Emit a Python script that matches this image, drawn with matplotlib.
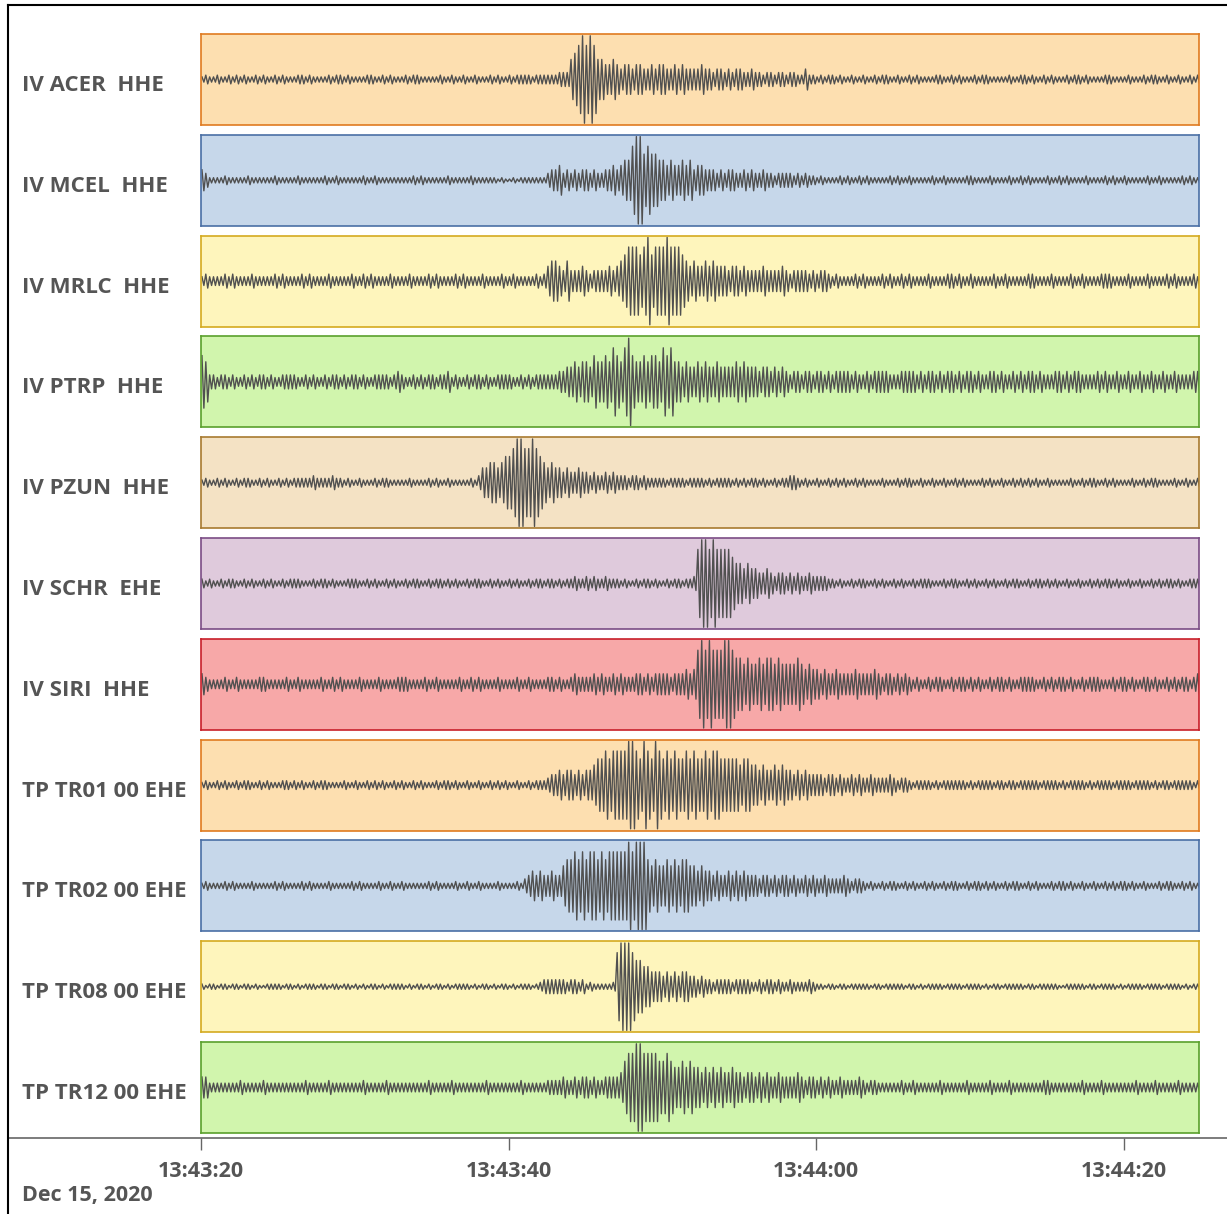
import matplotlib.pyplot as plt
import numpy as np
from matplotlib.lines import Line2D

# station labels (top to bottom)
stations = ["IV ACER  HHE", "IV MCEL  HHE", "IV MRLC  HHE", "IV PTRP  HHE",
            "IV PZUN  HHE", "IV SCHR  EHE", "IV SIRI  HHE", "TP TR01 00 EHE",
            "TP TR02 00 EHE", "TP TR08 00 EHE", "TP TR12 00 EHE"]

# envelope: one digit per 0.25 s, groups of 4 = 1 s, from 13:43:20
acer = ("1211 2112 1212 1121 2112 1211 1221 2111 1212 2121 1112 2112 1211 1212 2111 1121 1211 2112 1112 1211 "
        "2122 2212 2222 2333 6789 8986 6556 5455 4554 4545 5445 4544 4454 4344 3434 4334 3323 3233 2332 2422 "
        "1212 2121 1211 2112 1221 1211 2121 1112 2112 1211 1212 2111 1121 1221 2112 1211 1212 2121 1112 2111 "
        "1211 1212 2112 1121 1212")
mcel = ("4311 1121 1111 2111 1112 1111 1211 1111 2112 1111 1121 1211 1111 1112 1211 1111 2111 1121 1111 "
        "1010 0101 1111 1134 4534 3434 4343 3445 4566 8997 8776 6565 5656 4554 4434 3443 3434 3343 3233 3323 2322 "
        "1211 1121 2112 1211 1112 1211 2111 1121 1211 1112 2111 1211 1121 1212 1111 2112 1211 1121 1112 1211 "
        "2111 1121 1211 1112 1211")
mrlc = ("2322 2232 3222 2322 2223 2322 2232 3222 2322 2223 2232 3222 2322 2232 2223 2322 2232 3222 2322 2232 "
        "2322 2223 2356 6546 4445 4344 4454 5678 8878 9788 8988 8765 6556 5655 5455 4544 4454 4445 4344 4434 3443 "
        "2322 2232 3222 2323 2232 3222 2322 2233 2322 3222 2232 2322 2223 3222 2322 2232 2322 2233 3222 2322 "
        "2232 2223 2322 2232")
ptrp = ("7633 2332 3223 2323 3232 2333 3223 2322 3233 2323 3232 2333 3234 3223 2323 3233 4232 2323 3232 2333 "
        "3223 2323 3333 3445 5656 6576 6768 7689 7667 6776 8786 6565 5656 5565 5556 5655 5455 4545 "
        "4344 3443 4434 3444 4343 3434 4443 3344 4434 3443 4344 3434 4343 3443 4334 3434 4343 3344 3434 4333 "
        "3434 3343 3433 4334 3343 3433 3344")
pzun = ("1211 2121 1212 2112 1211 2121 2222 2322 2232 2121 1211 1212 2111 1121 1112 1211 2111 1121 "
        "3556 6567 7899 8898 7656 5545 4454 4343 3434 3332 3323 2222 2122 2212 2221 2122 2212 1212 2121 1212 2332 "
        "1211 2112 1212 1121 2111 1211 1212 2112 1121 1211 2121 1112 1211 2112 1212 1211 2111 1121 1212 2112 "
        "1211 1121 1212 2111 1211 2112")
schr = ("2121 1212 2112 1211 2121 1212 2211 1212 2121 1122 2112 1211 2121 1212 2112 1221 2121 1212 2112 1211 "
        "2121 1212 2122 1212 2322 3232 2322 2121 1212 2121 1212 2122 3899 8988 8876 6565 5445 4344 3434 3343 3332 "
        "2121 1212 2112 1211 2121 1212 2211 1212 2112 1211 2121 1212 2112 1221 2121 1211 2112 1212 2121 1211 "
        "2112 1212 2121 1222")
siri = ("4322 2232 2322 2223 3222 2232 2322 2223 2232 3222 2322 2232 2223 3322 2232 2322 2223 2232 3222 2322 "
        "2232 2322 2233 2322 3433 3343 4334 3433 3443 4344 4434 4454 5898 9888 9987 7676 6767 7676 6667 6565 "
        "5454 4544 4454 4445 4344 3434 3232 2323 3223 2332 3232 2323 3232 2333 3223 2323 3232 2323 3322 2323 "
        "3232 2332 3223 2323 3234")
tr01 = ("1211 2121 1212 2112 1211 1221 2121 1212 2111 1211 2112 1212 1121 2112 1211 1212 2121 1211 2112 1212 "
        "1121 1212 2234 4545 5454 5567 7878 8889 9879 8798 7878 7787 8778 7887 7777 6776 6565 5656 5545 4544 "
        "4434 4343 3434 3343 3334 3233 2122 2212 1222 2221 2122 2212 2122 1222 2212 2221 2122 2212 1222 2122 "
        "2212 2221 2122 1222 2212")
tr02 = ("1211 1121 2111 1211 1112 1211 1121 2111 1211 1112 1211 1121 1211 2111 1112 1211 1121 1211 2111 1211 "
        "1121 3454 5445 4467 7878 7887 8788 8889 8999 7676 6767 6776 6565 5454 4545 4544 4344 3434 4343 3434 "
        "3343 3334 3233 2121 1212 2112 1211 2121 1212 2112 1221 2121 1212 2112 1211 1212 2121 1211 2112 1212 "
        "2121 1211 1212 2112 1211")
tr08 = ("1011 0110 1101 1010 0111 1011 0101 1101 1011 0110 1010 1101 0111 1010 1101 0110 1011 1101 0110 1011 "
        "0101 1101 2333 3332 3323 1211 1112 8999 8776 6555 4545 4554 4343 3233 3323 3332 2323 3232 2322 2232 "
        "1101 1011 0111 1101 1011 1110 1101 0111 1011 1101 1110 1011 0111 1101 1011 1110 0111 1101 1011 1101 "
        "0111 1011 1101 1110 1011")
tr12 = ("4422 2222 2232 2222 3222 2222 2223 2222 2322 2222 2232 2222 3222 2222 2223 2222 2322 2222 2232 2222 "
        "2223 2222 2233 3343 3434 4343 3444 4578 8998 8887 7876 6767 6656 5656 5565 5455 4545 4454 4445 4344 "
        "3434 3343 3334 3233 2222 2232 2322 2222 3222 2223 2222 2322 2232 2222 2223 3222 2222 2322 2232 2222 "
        "2223 2222 3222 2232 2222")
traces = [acer, mcel, mrlc, ptrp, pzun, schr, siri, tr01, tr02, tr08, tr12]

# amplitude (fraction of half panel height) for each digit
levels = [0.03, 0.06, 0.10, 0.16, 0.24, 0.34, 0.46, 0.60, 0.78, 1.00]

face_colors = ["#fddfb0", "#c6d7ea", "#fef5bc", "#d1f5ad", "#f4e2c4", "#dfcadc",
               "#f7a8a8", "#fddfb0", "#c6d7ea", "#fef5bc", "#d1f5ad"]
edge_colors = ["#e07b20", "#4a6fa5", "#d4aa1f", "#5aa02c", "#a87a30", "#7b4d85",
               "#c8202a", "#e07b20", "#4a6fa5", "#d4aa1f", "#5aa02c"]

tick_secs = [0, 20, 40, 60]
tick_labels = ["13:43:20", "13:43:40", "13:44:00", "13:44:20"]
date_label = "Dec 15, 2020"
dt = 0.25
t_end = 64.9

W, H = 1227, 1214
fig = plt.figure(figsize=(W / 100, H / 100), dpi=100)
font = ["Open Sans", "DejaVu Sans"]
txt = "#555555"

left, right = 201, 1199
top0, pitch, ph = 34, 100.8, 91

for i, (name, tr) in enumerate(zip(stations, traces)):
    amp = np.array([levels[int(c)] for c in tr.replace(" ", "")])
    n = len(amp)
    t = np.arange(2 * n) * dt / 2 + dt / 4
    y = np.empty(2 * n)
    y[0::2] = amp
    y[1::2] = -amp
    top = top0 + i * pitch
    ax = fig.add_axes([left / W, 1 - (top + ph) / H, (right - left) / W, ph / H])
    ax.set_facecolor(face_colors[i])
    ax.plot(t, y * 0.98, color="#505050", lw=1.0)
    ax.set_xlim(0, t_end)
    ax.set_ylim(-1.02, 1.02)
    ax.set_xticks([])
    ax.set_yticks([])
    for s in ax.spines.values():
        s.set_color(edge_colors[i])
        s.set_linewidth(1.2)
    fig.text(22 / W, 1 - (top + ph / 2 + 6) / H, name, ha="left", va="center",
             fontsize=16, fontweight="bold", color=txt, family=font)

# time axis
axt = fig.add_axes([left / W, 1 - 1138 / H, (right - left) / W, 0.0001])
axt.set_xlim(0, t_end)
axt.set_xticks(tick_secs)
axt.set_xticklabels(tick_labels, fontsize=15.5, fontweight="bold", color=txt, family=font)
axt.tick_params(axis="x", direction="out", length=8.5, width=1, color="#666666", pad=8)
axt.set_yticks([])
for s in axt.spines.values():
    s.set_visible(False)
axt.patch.set_visible(False)

fig.text(22 / W, 1 - 1196 / H, date_label, ha="left", va="center",
         fontsize=15.5, fontweight="bold", color=txt, family=font)

# axis line and outer frame
fig.add_artist(Line2D([8 / W, 1], [1 - 1138 / H] * 2, color="#666666", lw=1.2))
fig.add_artist(Line2D([8 / W, 8 / W], [0, 1 - 5 / H], color="black", lw=1.5))
fig.add_artist(Line2D([8 / W, 1], [1 - 5 / H] * 2, color="black", lw=1.5))

fig.savefig("out.png", dpi=100)
